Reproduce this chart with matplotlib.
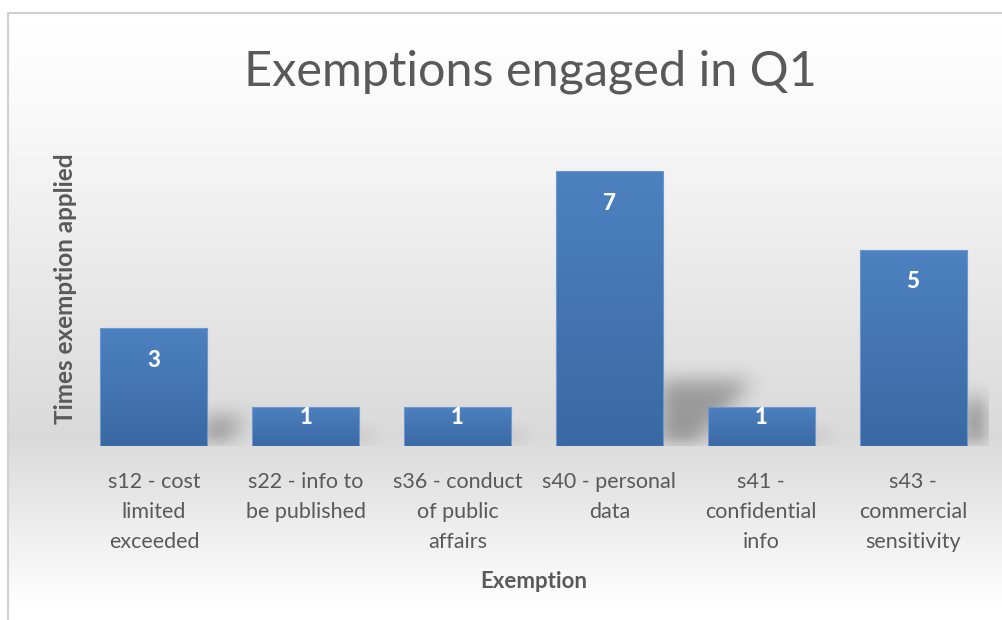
import numpy as np
import matplotlib
matplotlib.use("Agg")
import matplotlib.pyplot as plt
from matplotlib.patches import Rectangle

plt.rcParams['font.family'] = ['Lato', 'DejaVu Sans']

categories = ["s12 - cost\nlimited\nexceeded", "s22 - info to\nbe published",
              "s36 - conduct\nof public\naffairs", "s40 - personal\ndata",
              "s41 -\nconfidential\ninfo", "s43 -\ncommercial\nsensitivity"]
counts = [3, 1, 1, 7, 1, 5]

title = "Exemptions engaged in Q1"
xlabel = "Exemption"
ylabel = "Times exemption applied"

text_col = "#595959"
W, H = 1003, 620
fig = plt.figure(figsize=(W / 100, H / 100), dpi=100)

# chart background: white -> grey -> white vertical gradient
bg = fig.add_axes([0, 0, 1, 1], zorder=-5)
ypix = np.arange(H)
shade = np.interp(ypix, [0, 12, 110, 435, 610], [1.0, 1.0, 0.975, 0.85, 1.0])
grad = np.repeat(shade[:, None], W, axis=1)
grad[:12, :] = 1.0
grad[:, :8] = 1.0
bg.imshow(grad, cmap="gray", vmin=0, vmax=1, aspect="auto", extent=[0, W, H, 0])
bg.plot([8.5, 8.5, W], [H, 12.5, 12.5], color="#d0d0d0", lw=1.5)
bg.set_xlim(0, W)
bg.set_ylim(H, 0)
bg.axis("off")

ax = fig.add_axes([78 / W, (H - 446) / H, (989 - 78) / W, (446 - 132) / H])
ax.patch.set_alpha(0)
x = np.arange(len(counts))
ax.set_xlim(-0.5, len(counts) - 0.5)
ax.set_ylim(0, 8)

# soft diagonal shadows behind the bars
nx, ny = 911, 314
gx = np.linspace(-0.5, len(counts) - 0.5, nx)
gy = np.linspace(0, 8, ny)
XX, YY = np.meshgrid(gx, gy)
mask = np.zeros_like(XX)
width = 0.705
for xi, v in zip(x, counts):
    xr = xi + width / 2
    top = 0.24 * v
    right = xr + 0.03 * v + (0.085 - 0.03) * v * (YY / top)
    mask[(XX >= xr - 0.02) & (YY <= top) & (XX <= right)] = 1.0
k = np.ones(19) / 19
for _ in range(3):
    mask = np.apply_along_axis(lambda r: np.convolve(r, k, mode="same"), 1, mask)
    mask = np.apply_along_axis(lambda c: np.convolve(c, k, mode="same"), 0, mask)
rgba = np.zeros((ny, nx, 4))
rgba[..., 3] = mask * 0.3
ax.imshow(rgba, extent=[-0.5, len(counts) - 0.5, 0, 8], origin="lower",
          aspect="auto", zorder=1)

# bars with a subtle vertical gradient
bars = ax.bar(x, counts, width=width, color="none", zorder=2)
g = np.linspace(0, 1, 256)[:, None]
cols = np.zeros((256, 1, 3))
top_c = np.array([0x4d, 0x81, 0xc0]) / 255
bot_c = np.array([0x3a, 0x69, 0xa4]) / 255
cols[:, 0, :] = bot_c + (top_c - bot_c) * g
for b in bars:
    x0, y0 = b.get_x(), b.get_y()
    im = ax.imshow(cols, extent=[x0, x0 + b.get_width(), y0, y0 + b.get_height()],
                   origin="lower", aspect="auto", zorder=3)
    im.set_clip_path(Rectangle((x0, y0), b.get_width(), b.get_height(),
                               transform=ax.transData))
    ax.add_patch(Rectangle((x0, y0), b.get_width(), b.get_height(), fill=False,
                           ec="#6d98cc", lw=0.8, zorder=4))

for xi, v in zip(x, counts):
    off = -23 if v > 1 else -8
    ax.annotate(str(v), (xi, v), xytext=(0, off), textcoords="offset points",
                ha="center", va="center", color="white", fontsize=16,
                fontweight="black", zorder=5)

ax.set_xticks(x)
ax.set_xticklabels(categories, fontsize=15.5, color=text_col, linespacing=1.6)
ax.tick_params(axis="x", length=0, pad=19)
ax.set_yticks([])
for s in ax.spines.values():
    s.set_visible(False)

ax.set_xlabel(xlabel, fontsize=16, fontweight="bold", color=text_col, labelpad=14)
ax.set_ylabel(ylabel, fontsize=17.5, fontweight="bold", color=text_col, labelpad=1)

fig.text(530 / W, 1 - 72 / H, title, ha="center", va="center", fontsize=35,
         color=text_col)

fig.savefig("out.png", dpi=100)
